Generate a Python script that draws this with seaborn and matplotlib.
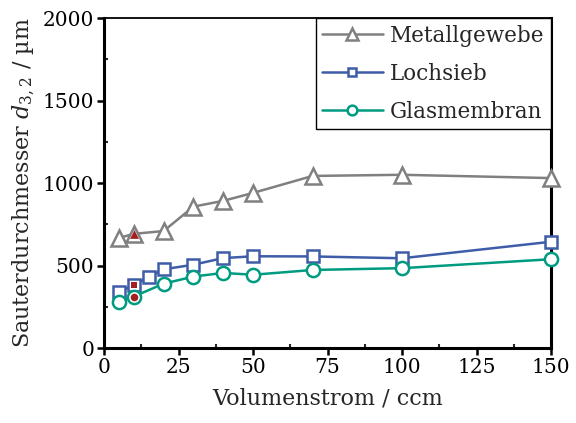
import matplotlib
matplotlib.use("Agg")
import matplotlib.pyplot as plt
import seaborn as sns
import pandas as pd
from matplotlib.ticker import MultipleLocator

x_metall = [5, 10, 20, 30, 40, 50, 70, 100, 150]
y_metall = [667, 692, 709, 857, 892, 940, 1043, 1050, 1030]
x_loch = [5, 10, 15, 20, 30, 40, 50, 70, 100, 150]
y_loch = [341, 381, 432, 477, 505, 545, 556, 555, 544, 644]
x_glas = [5, 10, 20, 30, 40, 50, 70, 100, 150]
y_glas = [278, 312, 390, 433, 455, 444, 473, 484, 538]
series_names = ["Metallgewebe", "Lochsieb", "Glasmembran"]
# highlighted points (red) at 10 ccm
x_red = [10, 10, 10]
y_red = [692, 381, 312]

sns.set_theme(style="ticks")
plt.rcParams["font.family"] = ["DejaVu Serif"]
plt.rcParams["mathtext.fontset"] = "custom"
plt.rcParams["mathtext.rm"] = "DejaVu Serif"
plt.rcParams["mathtext.it"] = "DejaVu Serif:italic"

df = pd.concat([
    pd.DataFrame({"x": x_metall, "y": y_metall, "s": series_names[0]}),
    pd.DataFrame({"x": x_loch, "y": y_loch, "s": series_names[1]}),
    pd.DataFrame({"x": x_glas, "y": y_glas, "s": series_names[2]}),
])
df_red = pd.DataFrame({"x": x_red, "y": y_red, "s": series_names})

colors = {"Metallgewebe": "#808080", "Lochsieb": "#3E5CA8", "Glasmembran": "#009B80"}
markers = {"Metallgewebe": "^", "Lochsieb": "s", "Glasmembran": "o"}
msizes = {"Metallgewebe": 11.5, "Lochsieb": 8, "Glasmembran": 9.5}
leg_msizes = {"Metallgewebe": 8, "Lochsieb": 6, "Glasmembran": 7}

fig = plt.figure(figsize=(5.76, 4.23), dpi=100)
ax = fig.add_axes([0.1806, 0.1773, 0.776, 0.780])

for name in series_names:
    sub = df[df["s"] == name]
    sns.lineplot(data=sub, x="x", y="y", ax=ax, color=colors[name], marker=markers[name],
                 markersize=msizes[name], markerfacecolor="white", markeredgecolor=colors[name],
                 markeredgewidth=1.8, linewidth=1.8, label=name, legend=False, zorder=3,
                 clip_on=False)

red_sizes = {"Metallgewebe": 40, "Lochsieb": 22, "Glasmembran": 30}
for name in series_names:
    sub = df_red[df_red["s"] == name]
    sns.scatterplot(data=sub, x="x", y="y", ax=ax, marker=markers[name], color="#A32020",
                    s=red_sizes[name], linewidth=0, zorder=4, legend=False)

ax.set_xlim(0, 150)
ax.set_ylim(0, 2000)
ax.xaxis.set_major_locator(MultipleLocator(25))
ax.xaxis.set_minor_locator(MultipleLocator(12.5))
ax.yaxis.set_major_locator(MultipleLocator(500))
ax.yaxis.set_minor_locator(MultipleLocator(250))
ax.tick_params(which="major", direction="out", length=5, width=1.8, labelsize=14.5, pad=2, colors="black")
ax.tick_params(which="minor", direction="in", length=3, width=1.5)
ax.tick_params(top=False, right=False, which="both")

for side in ["left", "bottom", "right"]:
    ax.spines[side].set_linewidth(2.2)
    ax.spines[side].set_color("black")
ax.spines["top"].set_linewidth(1.3)
ax.spines["top"].set_color("black")

ax.set_xlabel("Volumenstrom / ccm", fontsize=16, labelpad=8)
ax.set_ylabel(r"Sauterdurchmesser $d_{3,2}$ / µm", fontsize=16, labelpad=4)

leg = ax.legend(loc="upper right", fontsize=15.5, frameon=True, fancybox=False,
                edgecolor="black", framealpha=1, borderpad=0.3, handlelength=2.8,
                handletextpad=0.35, labelspacing=0.75, borderaxespad=0)
leg.get_frame().set_linewidth(1.0)
for h, name in zip(leg.legend_handles, series_names):
    h.set_markersize(leg_msizes[name])

fig.savefig("out.png", dpi=100)
